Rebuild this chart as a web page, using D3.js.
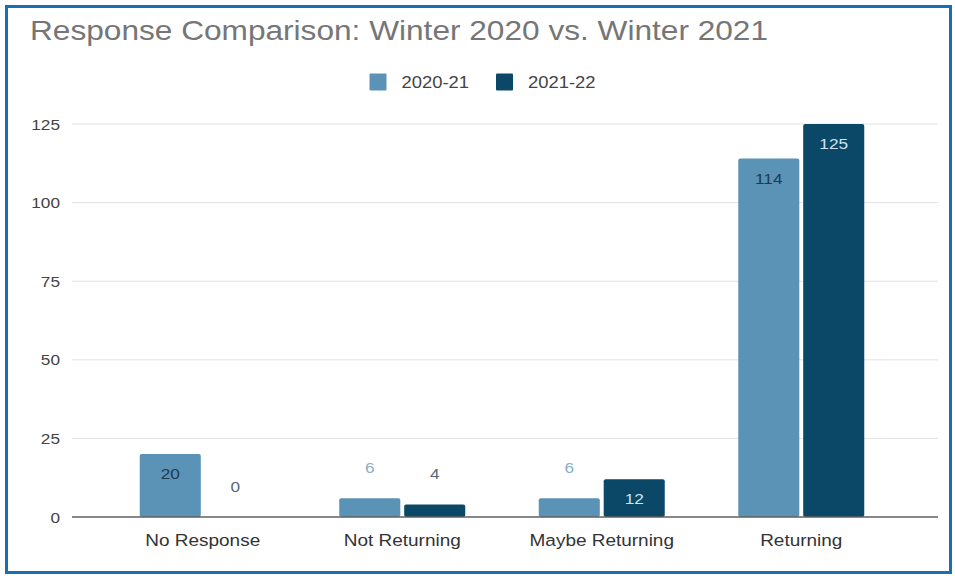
<!DOCTYPE html>
<html>
<head>
<meta charset="utf-8">
<script src="https://cdn.jsdelivr.net/npm/d3@7"></script>
<style>
  html, body { margin: 0; padding: 0; background: #fff; }
  svg { display: block; font-family: "Liberation Sans", Arial, sans-serif; }
</style>
</head>
<body>
<svg id="chart" width="955" height="576"></svg>
<script>
const title = "Response Comparison: Winter 2020 vs. Winter 2021";
const categories = ["No Response", "Not Returning", "Maybe Returning", "Returning"];
const seriesNames = ["2020-21", "2021-22"];
const values2020 = [20, 6, 6, 114];
const values2021 = [0, 4, 12, 125];
const tickValues = [0, 25, 50, 75, 100, 125];
const seriesColors = ["#5a93b6", "#0b4868"];
const insideLabelColors = ["#1e3b52", "#cfe3f0"];
const outsideLabelColors = ["#8aaec6", "#56687a"];

const seriesValues = [values2020, values2021];
const S = 1.15; // horizontal text stretch of the reference

const svg = d3.select("#chart");

function stext(g, x, y, str, opts) {
  const t = g.append("text")
    .attr("transform", `translate(${x},${y}) scale(${S},1)`)
    .attr("text-anchor", opts.anchor || "start")
    .attr("font-size", opts.size)
    .attr("fill", opts.fill)
    .text(str);
  return t;
}

// border
svg.append("rect")
  .attr("x", 6.5).attr("y", 6.5).attr("width", 944).attr("height", 566)
  .attr("fill", "#fff").attr("stroke", "#1b6fae").attr("stroke-width", 3);

// title
stext(svg, 30, 40, title, { size: 27.5, fill: "#767676" });

// scales
const y = d3.scaleLinear().domain([0, 125]).range([517, 124]);
const x0 = d3.scaleBand().domain(categories).range([103, 901]).paddingInner(0).paddingOuter(0);
const groupW = 126;
const x1 = d3.scaleBand().domain(seriesNames)
  .range([(x0.bandwidth() - groupW) / 2, (x0.bandwidth() + groupW) / 2])
  .paddingInner(0.06);

// gridlines
const grid = svg.append("g");
grid.selectAll("line").data(tickValues.filter(v => v !== 0)).join("line")
  .attr("x1", 72).attr("x2", 938)
  .attr("y1", d => y(d)).attr("y2", d => y(d))
  .attr("stroke", "#e2e2e2").attr("stroke-width", 1);

// y axis labels
const yAxis = svg.append("g");
tickValues.forEach(v => {
  stext(yAxis, 60, y(v) + 5.5, String(v), { size: 15, fill: "#444", anchor: "end" });
});

// bars
const bars = svg.append("g");
categories.forEach((cat, i) => {
  seriesNames.forEach((s, j) => {
    const v = seriesValues[j][i];
    const bx = x0(cat) + x1(s);
    const top = y(v);
    const h = y(0) - top;
    if (h > 0) {
      bars.append("rect")
        .attr("x", bx).attr("y", top)
        .attr("width", x1.bandwidth()).attr("height", h)
        .attr("rx", 2).attr("fill", seriesColors[j]);
    }
    const cx = bx + x1.bandwidth() / 2;
    if (h > 30) {
      stext(bars, cx, top + 25, String(v), { size: 15, fill: insideLabelColors[j], anchor: "middle" });
    } else {
      stext(bars, cx, top - 25, String(v), { size: 15, fill: outsideLabelColors[j], anchor: "middle" });
    }
  });
});

// baseline
svg.append("line")
  .attr("x1", 72).attr("x2", 938)
  .attr("y1", y(0)).attr("y2", y(0))
  .attr("stroke", "#616161").attr("stroke-width", 1.5);

// x labels
const xAxis = svg.append("g");
categories.forEach(cat => {
  stext(xAxis, x0(cat) + x0.bandwidth() / 2, 546, cat, { size: 16.5, fill: "#333", anchor: "middle" });
});

// legend
const legend = svg.append("g");
const sq = 17, gapSqText = 15, gapItems = 27;
const items = seriesNames.map((name, j) => {
  const g = legend.append("g");
  g.append("rect").attr("x", 0).attr("y", -8.5).attr("width", sq).attr("height", sq)
    .attr("rx", 1).attr("fill", seriesColors[j]);
  const t = stext(g, sq + gapSqText, 6, name, { size: 16, fill: "#444" });
  const w = sq + gapSqText + t.node().getComputedTextLength() * S;
  return { g, w };
});
const totalW = d3.sum(items, d => d.w) + gapItems * (items.length - 1);
let lx = 482.5 - totalW / 2;
items.forEach(it => {
  it.g.attr("transform", `translate(${lx},82)`);
  lx += it.w + gapItems;
});
</script>
</body>
</html>
